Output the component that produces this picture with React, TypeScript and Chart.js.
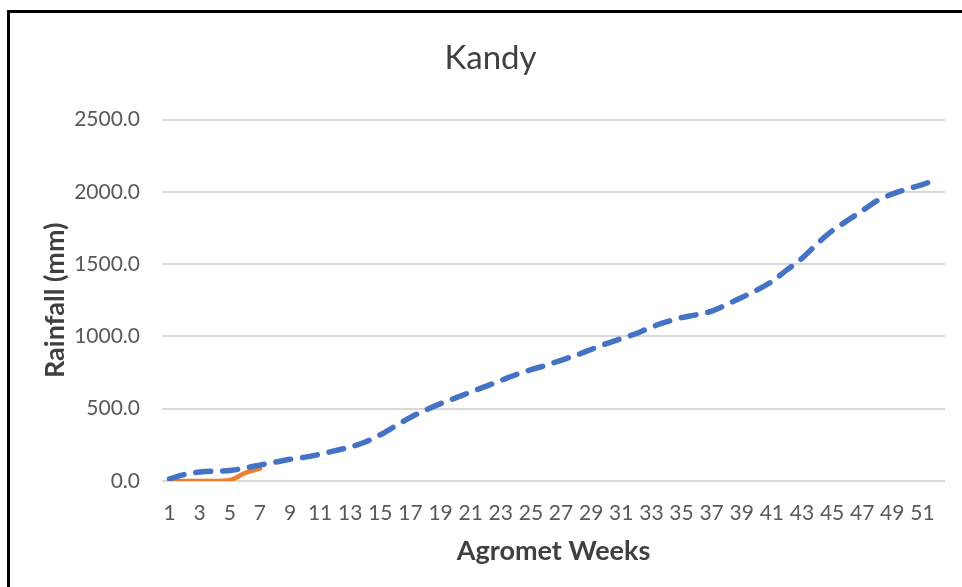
import React, { useEffect, useRef } from "react";
import { Chart, registerables } from "chart.js";

Chart.register(...registerables);

const weeks: string[] = Array.from({ length: 52 }, (_, i) => String(i + 1));

const normalRainfall: number[] = [
  15, 45, 62, 68, 72, 90, 110, 130, 150, 165,
  185, 210, 235, 270, 320, 380, 440, 490, 535, 575,
  615, 655, 695, 735, 770, 800, 835, 870, 910, 950,
  985, 1020, 1065, 1100, 1130, 1150, 1175, 1220, 1270, 1320,
  1380, 1460, 1540, 1640, 1730, 1800, 1870, 1940, 1985, 2020,
  2050, 2090,
];

const currentRainfall: number[] = [0, 0, 0, 0, 5, 55, 85];

const yTicks: number[] = [0, 500, 1000, 1500, 2000, 2500];

const FONT = "Lato, 'Open Sans', sans-serif";

export default function App() {
  const ref = useRef<HTMLCanvasElement | null>(null);

  useEffect(() => {
    if (!ref.current) return;
    const chart = new Chart(ref.current, {
      type: "line",
      data: {
        labels: weeks,
        datasets: [
          {
            label: "Normal",
            data: normalRainfall,
            borderColor: "#4472C4",
            borderWidth: 5.5,
            borderDash: [15, 12],
            borderCapStyle: "round",
            pointRadius: 0,
            tension: 0.4,
            cubicInterpolationMode: "monotone",
            fill: false,
          },
          {
            label: "Current",
            data: currentRainfall,
            borderColor: "#ED7D31",
            borderWidth: 4.5,
            borderCapStyle: "round",
            borderJoinStyle: "round",
            pointRadius: 0,
            tension: 0.3,
            cubicInterpolationMode: "monotone",
            fill: false,
          },
        ],
      },
      options: {
        animation: false,
        responsive: false,
        maintainAspectRatio: false,
        layout: { padding: { left: 36, right: 17, top: 0, bottom: 0 } },
        plugins: {
          legend: { display: false },
          tooltip: { enabled: false },
          title: {
            display: true,
            text: "Kandy",
            color: "#404040",
            font: { family: FONT, size: 33, weight: "normal", lineHeight: 1.2 },
            padding: { top: 39, bottom: 41 },
          },
        },
        scales: {
          x: {
            offset: true,
            grid: { display: false, drawTicks: false, offset: true },
            border: { display: false },
            ticks: {
              autoSkip: false,
              maxRotation: 0,
              minRotation: 0,
              padding: 20,
              color: "#595959",
              font: { family: FONT, size: 21 },
              callback: function (_v: any, i: number) {
                return i % 2 === 0 ? weeks[i] : "";
              },
            },
            title: {
              display: true,
              text: "Agromet Weeks",
              color: "#404040",
              font: { family: FONT, size: 27, weight: "bold", lineHeight: 1.2 },
              padding: { top: 0, bottom: 20 },
            },
            afterFit: (s: any) => {
              s.height = 106;
            },
          },
          y: {
            min: 0,
            max: 2500,
            afterBuildTicks: (s: any) => {
              s.ticks = yTicks.map((v) => ({ value: v }));
            },
            grid: { color: "#D9D9D9", lineWidth: 2, drawTicks: false },
            border: { display: false },
            ticks: {
              padding: 22,
              color: "#595959",
              font: { family: FONT, size: 21 },
              callback: (v: any) => Number(v).toFixed(1),
            },
            title: {
              display: true,
              text: "Rainfall (mm)",
              color: "#404040",
              font: { family: FONT, size: 27, weight: "bold", lineHeight: 1.2 },
              padding: { top: 3, bottom: 0 },
            },
            afterFit: (s: any) => {
              s.width = 126;
            },
          },
        },
      },
    });
    return () => chart.destroy();
  }, []);

  return (
    <div
      style={{
        position: "fixed",
        left: 0,
        top: 0,
        width: 962,
        height: 587,
        overflow: "hidden",
        background: "#fff",
      }}
    >
      <canvas
        ref={ref}
        width={962}
        height={587}
        style={{ position: "absolute", left: 0, top: 0, width: 962, height: 587 }}
      />
      <div
        style={{
          position: "absolute",
          left: 7,
          top: 10,
          width: 1000,
          height: 700,
          border: "3px solid #000",
          pointerEvents: "none",
        }}
      />
    </div>
  );
}
